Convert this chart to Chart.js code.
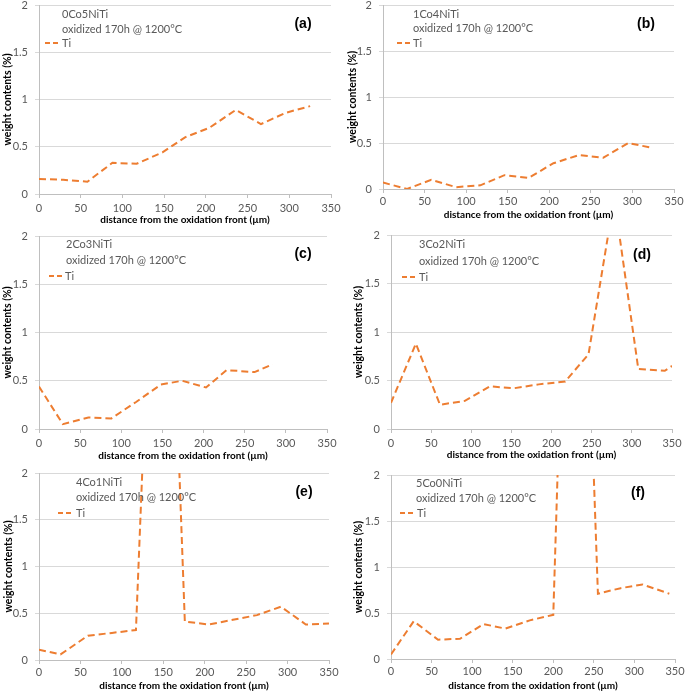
<!DOCTYPE html>
<html><head><meta charset="utf-8">
<script src="https://cdn.jsdelivr.net/npm/chart.js@4.4.1/dist/chart.umd.min.js"></script>
<style>
html,body{margin:0;padding:0;background:#fff;}
#page{position:relative;width:685px;height:692px;overflow:hidden;background:#fff;}
#page canvas{position:absolute;}
</style></head><body><div id="page"></div>
<script>
// ---- data ----
const alloys = ['0Co5NiTi','1Co4NiTi','2Co3NiTi','3Co2NiTi','4Co1NiTi','5Co0NiTi'];
const panelLabels = ['(a)','(b)','(c)','(d)','(e)','(f)'];
const seriesName = 'Ti';
const conditionText = 'oxidized 170h @ 1200°C';
const xTitle = 'distance from the oxidation front (µm)';
const yTitle = 'weight contents (%)';

const xA = [0,29,58,88,117,148,175,204,236,266,296,325];
const yA = [0.16,0.15,0.13,0.33,0.32,0.44,0.60,0.70,0.89,0.74,0.86,0.93];
const xB = [0,29,58,88,117,146,175,205,236,265,295,322];
const yB = [0.07,0.00,0.10,0.02,0.04,0.15,0.12,0.28,0.37,0.34,0.50,0.45];
const xC = [0,29,60,88,118,148,174,203,228,262,284];
const yC = [0.44,0.05,0.12,0.11,0.28,0.46,0.50,0.43,0.61,0.59,0.67];
const xD = [0,31,61,92,123,153,184,217,246,278,308,341,350];
const yD = [0.27,0.88,0.25,0.29,0.44,0.42,0.46,0.49,0.77,2.38,0.62,0.60,0.65];
const xE = [0,26,59,88,117,148,176,205,234,263,292,322,350];
const yE = [0.11,0.06,0.26,0.29,0.32,7.2,0.41,0.38,0.43,0.48,0.57,0.38,0.39];
const xF = [0,28,58,85,114,141,171,200,226,255,283,310,343];
const yF = [0.05,0.41,0.21,0.22,0.38,0.33,0.42,0.48,8.0,0.71,0.77,0.81,0.71];

const xsAll = [xA,xB,xC,xD,xE,xF];
const ysAll = [yA,yB,yC,yD,yE,yF];

// ---- layout (page pixel positions) ----
const panels = [
  {box:[0,0,345,227],   plot:[39,331,5,194],   tp:4, tt:1, name:[62,14], cond:29, leg:[45,58,43,62],  lab:[303,24]},
  {box:[345,0,685,222], plot:[383,674,5,189],  tp:2, tt:1, name:[413,14], cond:28, leg:[397,411,43,413], lab:[646,24]},
  {box:[0,228,345,463], plot:[39,327,236,429], tp:4, tt:1, name:[66,244], cond:260, leg:[49,63,276,65], lab:[303,254]},
  {box:[351,228,685,462], plot:[391,672,235,429], tp:4, tt:1, name:[419,244], cond:261, leg:[402,417,277,419], lab:[642,255]},
  {box:[1,463,345,692], plot:[39,329,473,660], tp:2, tt:0, name:[76,482], cond:497, leg:[58,73,513,76], lab:[304,492]},
  {box:[351,463,685,692], plot:[391,675,475,659], tp:2, tt:0, name:[416,483], cond:498, leg:[400,413,513,417], lab:[638,493]}
];

const FONT = 'Lato, "Open Sans", "Liberation Sans", sans-serif';
const ORANGE = '#ED7D31';
const page = document.getElementById('page');

function makeAnnot(i){
  const L = panels[i];
  return {
    id:'annot'+i,
    afterDraw(chart){
      const ctx = chart.ctx, bx = L.box[0], by = L.box[1];
      ctx.save();
      ctx.fillStyle = '#595959';
      ctx.font = '11px ' + FONT;
      ctx.textBaseline = 'middle';
      ctx.textAlign = 'left';
      ctx.fillText(alloys[i], L.name[0]-bx, L.name[1]-by);
      ctx.fillText(conditionText, L.name[0]-bx, L.cond-by);
      ctx.strokeStyle = ORANGE; ctx.lineWidth = 2; ctx.setLineDash([5,3]);
      ctx.beginPath();
      ctx.moveTo(L.leg[0]-bx, L.leg[2]-by); ctx.lineTo(L.leg[1]-bx, L.leg[2]-by);
      ctx.stroke();
      ctx.setLineDash([]);
      ctx.fillText(seriesName, L.leg[3]-bx, L.leg[2]-by);
      ctx.fillStyle = '#000';
      ctx.font = 'bold 14px "Liberation Sans", Arial, sans-serif';
      ctx.textAlign = 'center';
      ctx.fillText(panelLabels[i], L.lab[0]-bx, L.lab[1]-by);
      ctx.restore();
    }
  };
}

panels.forEach((L, i) => {
  const w = L.box[2]-L.box[0], h = L.box[3]-L.box[1];
  const cv = document.createElement('canvas');
  cv.width = w; cv.height = h;
  cv.style.left = L.box[0]+'px'; cv.style.top = L.box[1]+'px';
  cv.style.width = w+'px'; cv.style.height = h+'px';
  page.appendChild(cv);
  const yW = L.plot[0]-L.box[0];
  const xH = L.box[3]-L.plot[3];
  const pts = xsAll[i].map((x,k)=>({x:x, y:ysAll[i][k]}));
  new Chart(cv, {
    type:'line',
    data:{datasets:[{label:seriesName, data:pts, borderColor:ORANGE, backgroundColor:ORANGE,
      borderWidth:2, borderDash:[7,4], pointRadius:0, tension:0, fill:false}]},
    options:{
      responsive:false, animation:false, devicePixelRatio:1,
      layout:{padding:{left:0, top:L.plot[2]-L.box[1], right:L.box[2]-L.plot[1], bottom:0}},
      plugins:{legend:{display:false}, tooltip:{enabled:false}},
      scales:{
        x:{type:'linear', min:0, max:350,
          ticks:{stepSize:50, color:'#595959', padding:L.tp, maxRotation:0, font:{family:FONT, size:11, lineHeight:1.2}},
          grid:{drawOnChartArea:false, drawTicks:true, tickLength:4, color:'#bfbfbf'},
          border:{display:true, color:'#bfbfbf', width:1},
          title:{display:true, text:xTitle, color:'#000', padding:{top:0,bottom:L.tt}, font:{family:FONT, size:10, weight:'bold', lineHeight:1.2}},
          afterFit(s){ s.height = xH; s.paddingLeft = 0; s.paddingRight = 0; }
        },
        y:{type:'linear', min:0, max:2,
          ticks:{stepSize:0.5, color:'#595959', padding:7, font:{family:FONT, size:11, lineHeight:1.2},
            callback:(v)=>String(v)},
          grid:{color:'#d9d9d9', tickLength:4, drawTicks:true},
          border:{display:true, color:'#bfbfbf', width:1},
          title:{display:true, text:yTitle, color:'#000', padding:{top:1,bottom:0}, font:{family:FONT, size:10.5, weight:'bold', lineHeight:1.2}},
          afterFit(s){ s.width = yW; s.paddingTop = 0; s.paddingBottom = 0; }
        }
      }
    },
    plugins:[makeAnnot(i)]
  });
});
</script></body></html>
